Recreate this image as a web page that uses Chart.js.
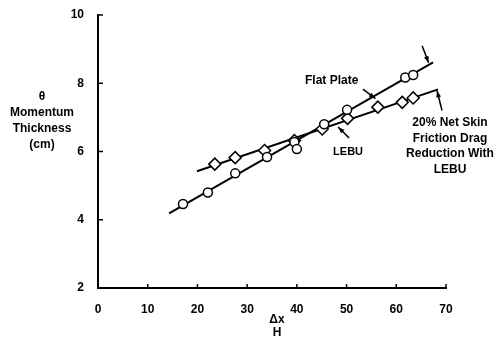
<!DOCTYPE html>
<html>
<head>
<meta charset="utf-8">
<script src="https://cdn.jsdelivr.net/npm/chart.js@4.4.1/dist/chart.umd.min.js"></script>
<style>
  html, body { margin: 0; padding: 0; background: #fff; }
  #wrap { width: 498px; height: 341px; }
</style>
</head>
<body>
<div id="wrap"><canvas id="momentumChart"></canvas></div>
<script>
// values (x = Δx/H, y = momentum thickness in cm)
const flatPlateX = [17.1, 22.1, 27.6, 34.0, 39.5, 40.0, 45.5, 50.1, 61.8, 63.4];
const flatPlateY = [4.46, 4.80, 5.36, 5.84, 6.28, 6.07, 6.80, 7.22, 8.17, 8.24];
const lebuX = [23.5, 27.6, 33.5, 39.5, 45.1, 50.2, 56.3, 61.2, 63.4];
const lebuY = [5.63, 5.82, 6.03, 6.32, 6.66, 6.97, 7.30, 7.44, 7.57];
// fitted straight lines, start and end
const flatFitX = [14.3, 67.4];
const flatFitY = [4.19, 8.61];
const lebuFitX = [19.9, 68.4];
const lebuFitY = [5.42, 7.82];
const xTicks = [0, 10, 20, 30, 40, 50, 60, 70];
const yTicks = [2, 4, 6, 8, 10];

const toPoints = (xs, ys) => xs.map((x, i) => ({ x: x, y: ys[i] }));
const FONT = "'Liberation Sans', Arial, sans-serif";

const arrow = (ctx, x1, y1, x2, y2) => {
    const a = Math.atan2(y2 - y1, x2 - x1);
    ctx.beginPath();
    ctx.moveTo(x1, y1);
    ctx.lineTo(x2, y2);
    ctx.stroke();
    ctx.beginPath();
    ctx.moveTo(x2, y2);
    ctx.lineTo(x2 - 7 * Math.cos(a - 0.35), y2 - 7 * Math.sin(a - 0.35));
    ctx.lineTo(x2 - 7 * Math.cos(a + 0.35), y2 - 7 * Math.sin(a + 0.35));
    ctx.closePath();
    ctx.fill();
};

// inward ticks, axis titles and the callouts
const decorations = {
    id: 'decorations',
    afterDraw(chart) {
        const ctx = chart.ctx;
        const xs = chart.scales.x;
        const ys = chart.scales.y;
        const area = chart.chartArea;
        ctx.save();
        ctx.strokeStyle = '#000';
        ctx.fillStyle = '#000';
        ctx.lineWidth = 1.5;
        yTicks.forEach(v => {
            const py = ys.getPixelForValue(v);
            ctx.beginPath();
            ctx.moveTo(area.left, py);
            ctx.lineTo(area.left + 5, py);
            ctx.stroke();
        });
        xTicks.forEach(v => {
            const px = xs.getPixelForValue(v);
            ctx.beginPath();
            ctx.moveTo(px, area.bottom);
            ctx.lineTo(px, area.bottom - 4);
            ctx.stroke();
        });

        ctx.textAlign = 'center';
        ctx.textBaseline = 'middle';
        ctx.font = 'bold 12px ' + FONT;
        ['θ', 'Momentum', 'Thickness', '(cm)'].forEach((t, i) => {
            ctx.fillText(t, 42, 97 + i * 16);
        });
        const lx = xs.getPixelForValue(36);
        ctx.fillText('Δx', lx, area.bottom + 32);
        ctx.fillText('H', lx, area.bottom + 45);

        ctx.fillText('Flat Plate', xs.getPixelForValue(47), ys.getPixelForValue(8.07));
        ctx.font = 'bold 11px ' + FONT;
        ctx.fillText('LEBU', xs.getPixelForValue(50.3), ys.getPixelForValue(5.98));
        ctx.font = 'bold 12px ' + FONT;
        ['20% Net Skin', 'Friction Drag', 'Reduction With', 'LEBU'].forEach((t, i) => {
            ctx.fillText(t, 450, ys.getPixelForValue(6.83) + i * 15.5);
        });

        ctx.lineWidth = 1.5;
        arrow(ctx, xs.getPixelForValue(53.3), ys.getPixelForValue(7.83), xs.getPixelForValue(55.8), ys.getPixelForValue(7.55));
        arrow(ctx, xs.getPixelForValue(50.5), ys.getPixelForValue(6.4), xs.getPixelForValue(48.3), ys.getPixelForValue(6.72));
        arrow(ctx, xs.getPixelForValue(65.2), ys.getPixelForValue(9.1), xs.getPixelForValue(66.5), ys.getPixelForValue(8.6));
        arrow(ctx, xs.getPixelForValue(69.2), ys.getPixelForValue(7.2), xs.getPixelForValue(68.2), ys.getPixelForValue(7.78));
        ctx.restore();
    }
};

new Chart(document.getElementById('momentumChart'), {
    type: 'scatter',
    data: {
        datasets: [
            {
                label: 'Flat Plate',
                data: toPoints(flatPlateX, flatPlateY),
                pointStyle: 'circle',
                pointRadius: 4.5,
                pointBorderWidth: 1.5,
                pointBorderColor: '#000',
                pointBackgroundColor: '#fff',
                order: 1
            },
            {
                label: 'LEBU',
                data: toPoints(lebuX, lebuY),
                pointStyle: 'rectRot',
                pointRadius: 6,
                pointBorderWidth: 1.5,
                pointBorderColor: '#000',
                pointBackgroundColor: '#fff',
                order: 2
            },
            {
                label: 'Flat Plate fit',
                data: toPoints(flatFitX, flatFitY),
                showLine: true,
                borderColor: '#000',
                borderWidth: 2,
                pointRadius: 0,
                order: 3
            },
            {
                label: 'LEBU fit',
                data: toPoints(lebuFitX, lebuFitY),
                showLine: true,
                borderColor: '#000',
                borderWidth: 2,
                pointRadius: 0,
                order: 4
            }
        ]
    },
    options: {
        responsive: true,
        maintainAspectRatio: false,
        animation: false,
        layout: { padding: { left: 0, top: 15, right: 52, bottom: 0 } },
        plugins: {
            legend: { display: false },
            tooltip: { enabled: false }
        },
        scales: {
            x: {
                type: 'linear',
                min: 0,
                max: 70,
                grid: { display: false },
                border: { display: true, color: '#000', width: 2 },
                afterBuildTicks: scale => { scale.ticks = xTicks.map(v => ({ value: v })); },
                afterFit: scale => { scale.height = 53; },
                ticks: {
                    color: '#000',
                    padding: 6,
                    maxRotation: 0,
                    font: { family: FONT, size: 12, weight: 'bold' }
                }
            },
            y: {
                type: 'linear',
                min: 2,
                max: 10,
                grid: { display: false },
                border: { display: true, color: '#000', width: 2 },
                afterBuildTicks: scale => { scale.ticks = yTicks.map(v => ({ value: v })); },
                afterFit: scale => { scale.width = 98; },
                ticks: {
                    color: '#000',
                    padding: 6,
                    font: { family: FONT, size: 12, weight: 'bold' }
                }
            }
        }
    },
    plugins: [decorations]
});
</script>
</body>
</html>
